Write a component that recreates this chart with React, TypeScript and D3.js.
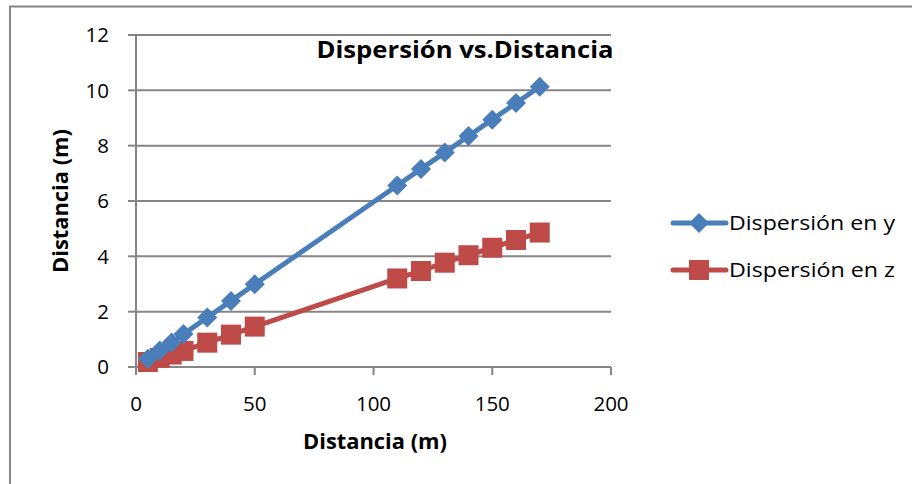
import React from "react";
import * as d3 from "d3";

const distances = [5, 10, 15, 20, 30, 40, 50, 110, 120, 130, 140, 150, 160, 170];
const dispersionY = [0.3, 0.6, 0.89, 1.19, 1.79, 2.39, 2.99, 6.56, 7.16, 7.75, 8.35, 8.94, 9.54, 10.13];
const dispersionZ = [0.18, 0.33, 0.45, 0.58, 0.88, 1.17, 1.46, 3.2, 3.47, 3.77, 4.04, 4.31, 4.59, 4.86];
const xTicks = [0, 50, 100, 150, 200];
const yTicks = [0, 2, 4, 6, 8, 10, 12];
const seriesNames = ["Dispersión en y", "Dispersión en z"];
const seriesColors = ["#4A7EBB", "#BE4B48"];

const FONT = "'Open Sans', 'Liberation Sans', sans-serif";

export default function App() {
  const W = 912, H = 484;
  const x = d3.scaleLinear().domain([0, 200]).range([136, 611]);
  const y = d3.scaleLinear().domain([0, 12]).range([367, 35]);
  const line = d3.line<[number, number]>().x(d => x(d[0])).y(d => y(d[1]));
  const ptsY: [number, number][] = distances.map((d, i) => [d, dispersionY[i]]);
  const ptsZ: [number, number][] = distances.map((d, i) => [d, dispersionZ[i]]);
  const diamond = (cx: number, cy: number, r: number) =>
    `M${cx},${cy - r}L${cx + r},${cy}L${cx},${cy + r}L${cx - r},${cy}Z`;
  const grid = "#868686";
  return (
    <svg width={W} height={H} style={{ position: "absolute", left: 0, top: 0 }} fontFamily={FONT}>
      <rect x={0} y={0} width={W} height={H} fill="#fff" />
      <rect x={10} y={6.5} width={W + 10} height={H + 10} fill="#fff" stroke={grid} strokeWidth={2} />
      {yTicks.map(t => (
        <g key={t}>
          {t > 0 && <line x1={x(0)} x2={x(200)} y1={y(t)} y2={y(t)} stroke={grid} strokeWidth={2} />}
          <line x1={x(0) - 8} x2={x(0)} y1={y(t)} y2={y(t)} stroke={grid} strokeWidth={2} />
          <text x={109} y={y(t)} dy="0.36em" textAnchor="end" fontSize={20.5} fill="#000">{t}</text>
        </g>
      ))}
      <line x1={x(0)} x2={x(0)} y1={y(12)} y2={y(0)} stroke={grid} strokeWidth={2} />
      <line x1={x(0)} x2={x(200)} y1={y(0)} y2={y(0)} stroke={grid} strokeWidth={2} />
      {xTicks.map(t => (
        <g key={t}>
          <line x1={x(t)} x2={x(t)} y1={y(0)} y2={y(0) + 8} stroke={grid} strokeWidth={2} />
          <text x={x(t)} y={411} textAnchor="middle" fontSize={20.5} fill="#000">{t}</text>
        </g>
      ))}
      <text x={375} y={449} textAnchor="middle" fontSize={20.5} fontWeight="bold" fill="#000" textLength={144} lengthAdjust="spacingAndGlyphs">Distancia (m)</text>
      <text transform={`translate(68,201) rotate(-90)`} textAnchor="middle" fontSize={20.5} fontWeight="bold" fill="#000" textLength={144} lengthAdjust="spacingAndGlyphs">Distancia (m)</text>
      <text x={465} y={58} textAnchor="middle" fontSize={23} fontWeight="bold" fill="#000" textLength={297} lengthAdjust="spacingAndGlyphs">Dispersión vs.Distancia</text>

      <path d={line(ptsZ) || ""} fill="none" stroke={seriesColors[1]} strokeWidth={5} strokeLinejoin="round" />
      {ptsZ.map((p, i) => (
        <rect key={i} x={x(p[0]) - 10} y={y(p[1]) - 10} width={20} height={20} fill={seriesColors[1]} />
      ))}
      <path d={line(ptsY) || ""} fill="none" stroke={seriesColors[0]} strokeWidth={5} strokeLinejoin="round" />
      {ptsY.map((p, i) => (
        <path key={i} d={diamond(x(p[0]), y(p[1]), 10)} fill={seriesColors[0]} />
      ))}

      {seriesNames.map((n, i) => {
        const ly = 223 + i * 47;
        return (
          <g key={n}>
            <line x1={673} x2={726} y1={ly} y2={ly} stroke={seriesColors[i]} strokeWidth={5} strokeLinecap="round" />
            {i === 0 ? (
              <path d={diamond(699, ly, 10)} fill={seriesColors[0]} />
            ) : (
              <rect x={689} y={ly - 10} width={20} height={20} fill={seriesColors[1]} />
            )}
            <text x={729} y={ly} dy="0.36em" fontSize={20.5} fill="#000" textLength={166} lengthAdjust="spacingAndGlyphs">{n}</text>
          </g>
        );
      })}
    </svg>
  );
}
